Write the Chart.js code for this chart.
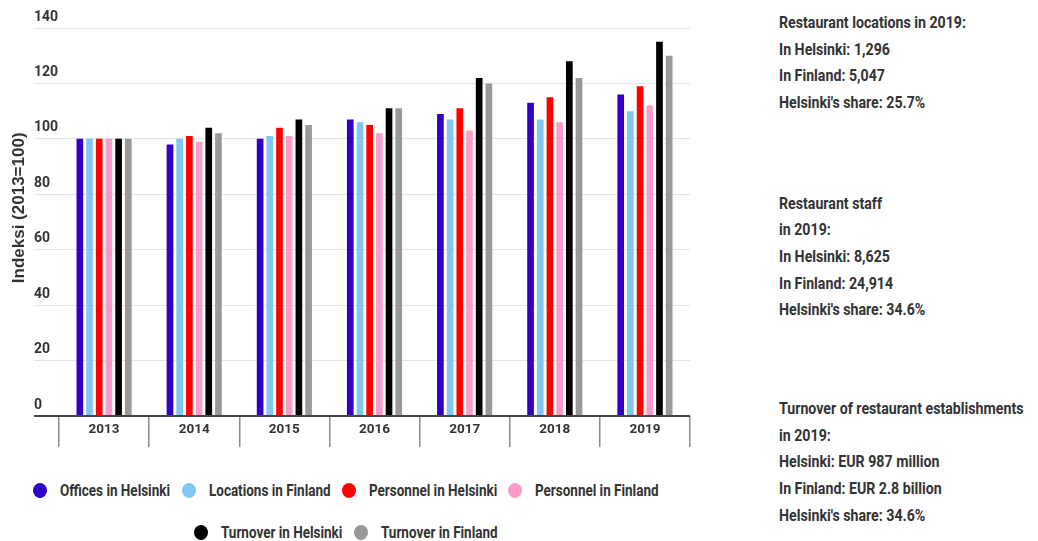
<!DOCTYPE html>
<html>
<head>
<meta charset="utf-8">
<script src="https://cdn.jsdelivr.net/npm/chart.js@4/dist/chart.umd.min.js"></script>
<style>
  body {
    margin: 0;
    background: #fff;
    width: 1038px;
    height: 541px;
    position: relative;
    overflow: hidden;
    font-family: Roboto, 'Liberation Sans', sans-serif;
    font-weight: bold;
    color: #333;
  }
  #wrap { position: absolute; left: 0; top: 0; width: 692px; height: 460px; }
  #legend { position: absolute; left: 0; top: 469.5px; width: 692px; font-size: 16px; }
  .row { display: flex; justify-content: center; align-items: center; height: 42px; gap: 11.5px; }
  .item { display: flex; align-items: center; white-space: nowrap; }
  .dot { width: 14px; height: 15px; border-radius: 50%; margin-right: 13px; flex: none; }
  .txt { display: inline-block; transform-origin: 0 50%; }
  .info { position: absolute; left: 779px; font-size: 16.5px; line-height: 26.7px; white-space: nowrap; transform-origin: 0 0; }
</style>
</head>
<body>
<div id="wrap"><canvas id="restaurantChart" width="692" height="460"></canvas></div>
<div id="legend"></div>

<div class="info" style="top:10px">
  <div><span class="measure">Restaurant locations in 2019:</span></div>
  <div>In Helsinki: 1,296</div>
  <div>In Finland: 5,047</div>
  <div>Helsinki's share: 25.7%</div>
</div>
<div class="info" style="top:190.5px">
  <div>Restaurant staff</div>
  <div>in 2019:</div>
  <div>In Helsinki: 8,625</div>
  <div>In Finland: 24,914</div>
  <div>Helsinki's share: 34.6%</div>
</div>
<div class="info" style="top:396px">
  <div>Turnover of restaurant establishments</div>
  <div>in 2019:</div>
  <div>Helsinki: EUR 987 million</div>
  <div>In Finland: EUR 2.8 billion</div>
  <div>Helsinki's share: 34.6%</div>
</div>

<script>
const years = ['2013', '2014', '2015', '2016', '2017', '2018', '2019'];

const officesHelsinki   = [100, 98, 100, 107, 109, 113, 116];
const locationsFinland  = [100, 100, 101, 106, 107, 107, 110];
const personnelHelsinki = [100, 101, 104, 105, 111, 115, 119];
const personnelFinland  = [100, 99, 101, 102, 103, 106, 112];
const turnoverHelsinki  = [100, 104, 107, 111, 122, 128, 135];
const turnoverFinland   = [100, 102, 105, 111, 120, 122, 130];

const seriesNames  = ['Offices in Helsinki', 'Locations in Finland', 'Personnel in Helsinki',
                      'Personnel in Finland', 'Turnover in Helsinki', 'Turnover in Finland'];
const seriesColors = ['#3300c6', '#80c8ef', '#ff0000', '#f99cc9', '#000000', '#999999'];
const seriesValues = [officesHelsinki, locationsFinland, personnelHelsinki,
                      personnelFinland, turnoverHelsinki, turnoverFinland];

const yMax = 140;
const yStep = 20;
const yTitle = 'Indeksi (2013=100)';

Chart.defaults.font.family = "Roboto, 'Liberation Sans', sans-serif";
Chart.defaults.font.weight = 'bold';
Chart.defaults.color = '#333';

const datasets = seriesNames.map((name, i) => ({
  label: name,
  data: seriesValues[i],
  backgroundColor: seriesColors[i],
  borderWidth: 0,
  categoryPercentage: 0.645,
  barPercentage: 0.69
}));

const ctx = document.getElementById('restaurantChart');

new Chart(ctx, {
  type: 'bar',
  data: { labels: years, datasets: datasets },
  options: {
    responsive: false,
    animation: false,
    devicePixelRatio: 1,
    layout: { padding: { top: 28, left: 4, right: 2, bottom: 0 } },
    plugins: {
      legend: { display: false },
      tooltip: { enabled: false }
    },
    scales: {
      x: {
        offset: true,
        grid: {
          offset: true,
          drawOnChartArea: false,
          drawTicks: true,
          tickLength: 31,
          color: '#8a8a8a',
          lineWidth: 1.5
        },
        border: { display: false },
        ticks: {
          padding: -25,
          color: '#333',
          font: { size: 13.5, weight: 'bold' }
        },
        afterFit: function(scale) {
          scale.height = 44;
        }
      },
      y: {
        min: 0,
        max: yMax,
        ticks: {
          stepSize: yStep,
          mirror: true,
          padding: -25,
          labelOffset: -11,
          color: '#333',
          font: { size: 14, weight: 'bold' }
        },
        grid: {
          drawTicks: true,
          tickLength: 25,
          color: c => (c.tick && c.tick.value === 0) ? '#444' : '#e4e4e4',
          lineWidth: c => (c.tick && c.tick.value === 0) ? 2 : 1
        },
        border: { display: false },
        title: {
          display: true,
          // leading spaces nudge the rotated title up, like the original
          text: '      ' + yTitle,
          color: '#333',
          font: { family: "'Liberation Sans', Arial, sans-serif", size: 17, weight: 'bold' },
          padding: { top: 4.8, bottom: 10 }
        },
        afterFit: function(scale) {
          scale.width = 55;
        }
      }
    }
  }
});

// legend as html, two centred rows; the original type is narrow, so squeeze it
const legend = document.getElementById('legend');
const rows = [[0, 1, 2, 3], [4, 5]];
const spans = [];
rows.forEach(r => {
  const row = document.createElement('div');
  row.className = 'row';
  r.forEach(i => {
    const item = document.createElement('div');
    item.className = 'item';
    const dot = document.createElement('span');
    dot.className = 'dot';
    dot.style.background = seriesColors[i];
    const txt = document.createElement('span');
    txt.className = 'txt';
    txt.textContent = seriesNames[i];
    item.appendChild(dot);
    item.appendChild(txt);
    row.appendChild(item);
    spans.push(txt);
  });
  legend.appendChild(row);
});

const k = 110 / spans[0].getBoundingClientRect().width;
spans.forEach(s => {
  const w = s.getBoundingClientRect().width;
  s.style.transform = 'scaleX(' + k + ')';
  s.style.marginRight = (-(1 - k) * w) + 'px';
});

// right-hand notes, same squeeze
const ref = document.querySelector('.measure');
const ki = 187 / ref.getBoundingClientRect().width;
document.querySelectorAll('.info').forEach(el => {
  el.style.transform = 'scaleX(' + ki + ')';
});
</script>
</body>
</html>
